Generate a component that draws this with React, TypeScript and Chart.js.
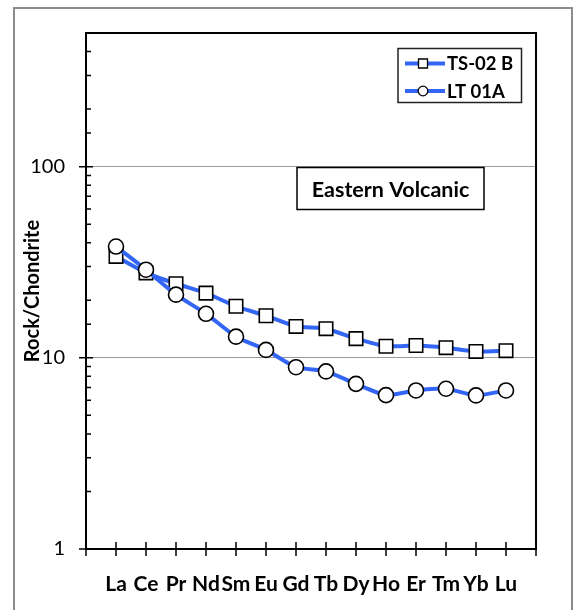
import React, { useEffect, useRef } from "react";
import { Chart, registerables } from "chart.js";

Chart.register(...registerables);

const elements = ["La", "Ce", "Pr", "Nd", "Sm", "Eu", "Gd", "Tb", "Dy", "Ho", "Er", "Tm", "Yb", "Lu"];
const ts02b = [33.9, 27.8, 24.4, 21.8, 18.6, 16.6, 14.6, 14.2, 12.6, 11.5, 11.6, 11.3, 10.8, 10.9];
const lt01a = [38.2, 28.9, 21.4, 17.0, 12.9, 11.0, 8.93, 8.49, 7.31, 6.38, 6.75, 6.89, 6.36, 6.75];
const seriesNames = ["TS-02 B", "LT 01A"];
const yLabels = [1, 10, 100];
const annotationText = "Eastern Volcanic";
const yTitle = "Rock/Chondrite";

const FONT = "Lato, 'Open Sans', sans-serif";
const BLUE = "#3366f5";

const toPoints = (arr: number[]) => arr.map((v, i) => ({ x: i + 1, y: v }));

const framePlugin = {
  id: "framePlugin",
  beforeDraw(chart: any) {
    const ctx = chart.ctx;
    ctx.save();
    ctx.strokeStyle = "#8c8c8c";
    ctx.lineWidth = 2;
    ctx.strokeRect(14, 8, 558, 700);
    ctx.restore();
  },
  beforeDatasetsDraw(chart: any) {
    const ctx = chart.ctx;
    const { left, right, top, bottom } = chart.chartArea;
    const xs = chart.scales.x;
    const ys = chart.scales.y;
    ctx.save();
    ctx.strokeStyle = "#000";
    ctx.lineWidth = 2;
    ctx.strokeRect(left, top, right - left, bottom - top);
    ctx.lineWidth = 1.5;
    ctx.beginPath();
    for (let i = 0; i <= elements.length + 1; i++) {
      const x = xs.getPixelForValue(i);
      ctx.moveTo(x, bottom - 7);
      ctx.lineTo(x, bottom + 7);
    }
    ys.ticks.forEach((t: any) => {
      const y = ys.getPixelForValue(t.value);
      if (yLabels.includes(t.value)) {
        ctx.moveTo(left - 7, y);
        ctx.lineTo(left + 7, y);
      } else {
        ctx.moveTo(left, y);
        ctx.lineTo(left + 5, y);
      }
    });
    ctx.stroke();
    ctx.restore();
  },
  afterDraw(chart: any) {
    const ctx = chart.ctx;
    ctx.save();
    // annotation box
    ctx.fillStyle = "#fff";
    ctx.fillRect(297, 167.5, 187, 42);
    ctx.strokeStyle = "#000";
    ctx.lineWidth = 1.5;
    ctx.strokeRect(297, 167.5, 187, 42);
    ctx.fillStyle = "#000";
    ctx.font = `bold 21.5px ${FONT}`;
    ctx.textAlign = "center";
    ctx.textBaseline = "middle";
    ctx.fillText(annotationText, 390.5, 190);

    // legend box
    ctx.fillStyle = "#fff";
    ctx.fillRect(398, 48.5, 123.5, 54);
    ctx.strokeStyle = "#222";
    ctx.lineWidth = 1.5;
    ctx.strokeRect(398, 48.5, 123.5, 54);
    const rows = [63.5, 91];
    rows.forEach((y, i) => {
      ctx.strokeStyle = BLUE;
      ctx.lineWidth = 4;
      ctx.beginPath();
      ctx.moveTo(405, y);
      ctx.lineTo(445, y);
      ctx.stroke();
      ctx.fillStyle = "#fff";
      ctx.strokeStyle = "#000";
      ctx.lineWidth = 1.3;
      ctx.beginPath();
      if (i === 0) {
        ctx.rect(423 - 4.5, y - 4.5, 9, 9);
      } else {
        ctx.arc(423, y, 4.8, 0, Math.PI * 2);
      }
      ctx.fill();
      ctx.stroke();
      ctx.fillStyle = "#000";
      ctx.font = `bold 18.5px ${FONT}`;
      ctx.textAlign = "left";
      ctx.textBaseline = "middle";
      ctx.fillText(seriesNames[i], 447, y + 1);
    });
    ctx.restore();
  },
};

export default function App() {
  const ref = useRef<HTMLCanvasElement | null>(null);
  useEffect(() => {
    if (!ref.current) return;
    const chart = new Chart(ref.current, {
      type: "line",
      data: {
        datasets: [
          {
            label: seriesNames[0],
            data: toPoints(ts02b),
            borderColor: BLUE,
            borderWidth: 4,
            pointStyle: "rect",
            pointRadius: 9.5,
            pointBackgroundColor: "#fff",
            pointBorderColor: "#000",
            pointBorderWidth: 1.6,
            tension: 0.2,
            order: 2,
          },
          {
            label: seriesNames[1],
            data: toPoints(lt01a),
            borderColor: BLUE,
            borderWidth: 4,
            pointStyle: "circle",
            pointRadius: 7.5,
            pointBackgroundColor: "#fff",
            pointBorderColor: "#000",
            pointBorderWidth: 1.6,
            tension: 0.2,
            order: 1,
          },
        ],
      },
      options: {
        responsive: false,
        animation: false,
        layout: { padding: { left: 14, top: 33, right: 38, bottom: 0 } },
        plugins: { legend: { display: false }, tooltip: { enabled: false } },
        scales: {
          x: {
            type: "linear",
            min: 0,
            max: elements.length + 1,
            border: { display: false },
            grid: { display: false, drawTicks: false },
            afterFit: (s: any) => {
              s.height = 61;
            },
            ticks: {
              stepSize: 1,
              autoSkip: false,
              maxRotation: 0,
              padding: 23,
              color: "#000",
              font: { family: FONT, size: 21, weight: "bold" },
              callback: (v: any) => (v >= 1 && v <= elements.length ? elements[v - 1] : ""),
            },
          },
          y: {
            type: "logarithmic",
            min: 1,
            max: 500,
            border: { display: false },
            grid: {
              drawTicks: false,
              lineWidth: 1,
              color: (c: any) =>
                c.tick && (c.tick.value === 10 || c.tick.value === 100) ? "#9a9a9a" : "rgba(0,0,0,0)",
            },
            afterFit: (s: any) => {
              s.width = 72;
            },
            title: {
              display: true,
              text: yTitle,
              color: "#000",
              font: { family: FONT, size: 20, weight: "bold" },
              padding: { top: 7, bottom: 0 },
            },
            ticks: {
              autoSkip: false,
              padding: 21,
              color: "#000",
              font: { family: FONT, size: 20 },
              callback: (v: any) => (yLabels.includes(Number(v)) ? String(v) : ""),
            },
          },
        },
      },
      plugins: [framePlugin],
    } as any);
    return () => chart.destroy();
  }, []);
  return (
    <div style={{ position: "fixed", left: 0, top: 0, width: 574, height: 610, background: "#fff" }}>
      <canvas ref={ref} width={574} height={610} style={{ display: "block" }} />
    </div>
  );
}
